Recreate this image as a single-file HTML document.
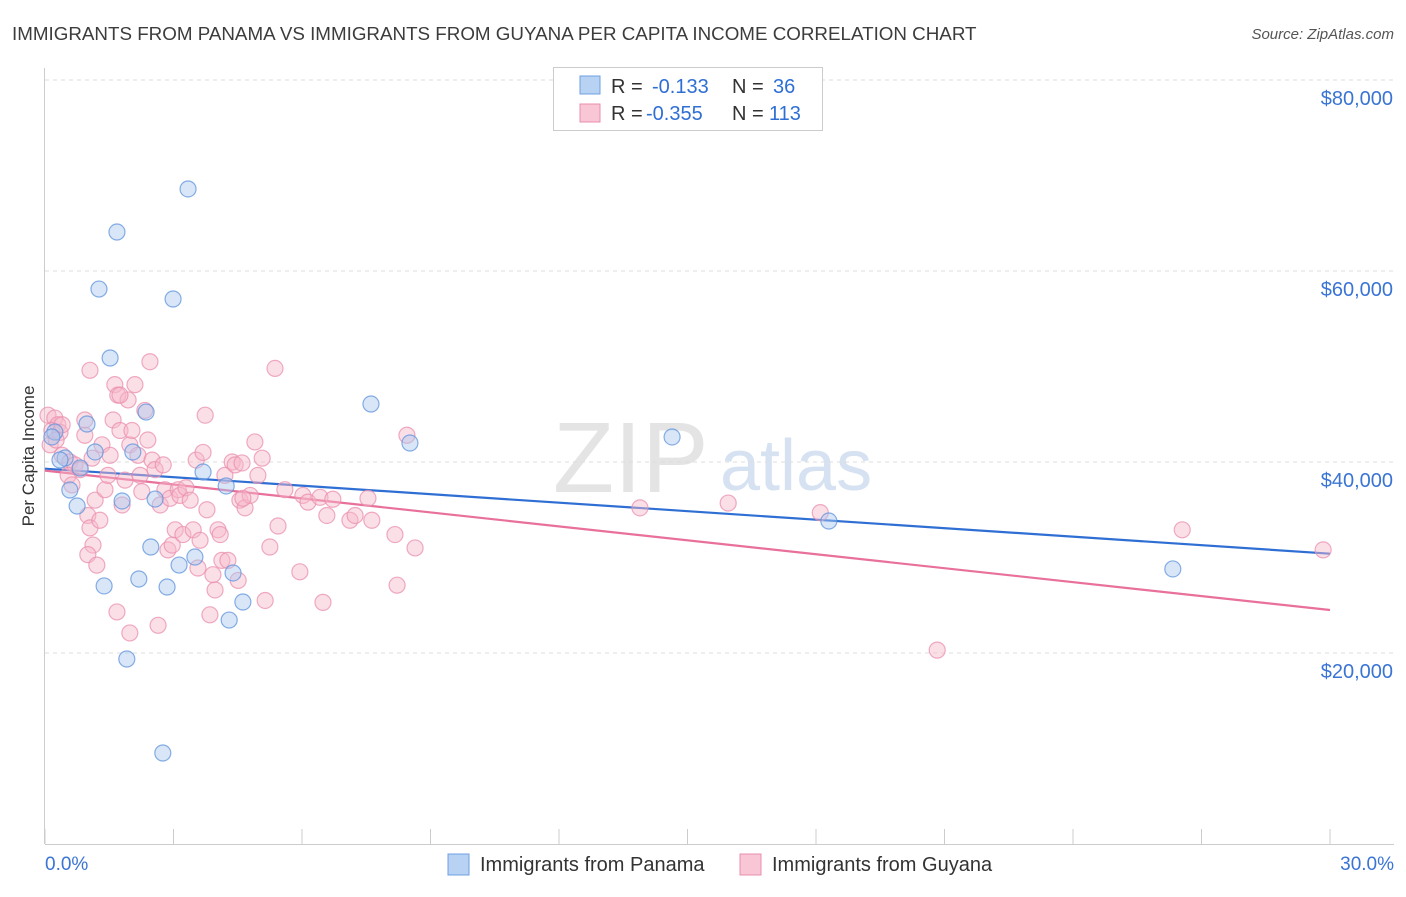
<!DOCTYPE html>
<html><head><meta charset="utf-8">
<style>
body{margin:0;background:#fff;font-family:"Liberation Sans",sans-serif;}
svg text{font-family:"Liberation Sans",sans-serif;}
</style></head>
<body>
<svg id="chart" width="1406" height="892" viewBox="0 0 1406 892">
<text x="12" y="40" font-size="18.8" fill="#3c3c3c">IMMIGRANTS FROM PANAMA VS IMMIGRANTS FROM GUYANA PER CAPITA INCOME CORRELATION CHART</text>
<text x="1394" y="39" font-size="15" fill="#555" text-anchor="end" font-style="italic">Source: ZipAtlas.com</text>
<text x="553" y="492" font-size="100" fill="#e4e4e4" font-family="Liberation Serif">ZIP</text>
<text x="720" y="490" font-size="72" fill="#d6e2f2">atlas</text>
<text transform="translate(34,456) rotate(-90)" font-size="17" fill="#333" text-anchor="middle">Per Capita Income</text>
<g id="grid"></g><g id="axes"></g><g id="lines"></g><g id="pts"></g>
<g>
<rect x="553.5" y="67.5" width="269" height="63" fill="#fff" stroke="#ccc"/>
<rect x="580" y="76" width="20" height="18" fill="#b7d2f3" stroke="#6f9fe0"/>
<rect x="580" y="104" width="20" height="18" fill="#f8c6d4" stroke="#e98eae"/>
<text x="611" y="93" font-size="20" fill="#333">R = </text><text x="652" y="93" font-size="20" fill="#2f6fd4">-0.133</text>
<text x="732" y="93" font-size="20" fill="#333">N = </text><text x="773" y="93" font-size="20" fill="#2f6fd4">36</text>
<text x="611" y="120" font-size="20" fill="#333">R = </text><text x="646" y="120" font-size="20" fill="#2f6fd4">-0.355</text>
<text x="732" y="120" font-size="20" fill="#333">N = </text><text x="769" y="120" font-size="20" fill="#2f6fd4">113</text>
</g>
<g>
<rect x="448" y="854" width="21" height="21" fill="#b7d2f3" stroke="#6f9fe0"/>
<text x="480" y="871" font-size="20" fill="#333">Immigrants from Panama</text>
<rect x="740" y="854" width="21" height="21" fill="#f8c6d4" stroke="#e98eae"/>
<text x="772" y="871" font-size="20" fill="#333">Immigrants from Guyana</text>
</g>
</svg>
<script>
const yTicks=[20000,40000,60000,80000];
const yTickLabels=["$20,000","$40,000","$60,000","$80,000"];
const xTickLabels=["0.0%","30.0%"];
const panamaX=[3.34,1.68,1.26,2.99,1.52,7.61,2.36,0.98,0.23,0.16,14.64,8.52,0.47,1.17,0.82,2.05,0.58,1.80,0.75,2.57,3.69,4.23,2.47,3.50,3.13,2.19,1.38,2.85,4.39,4.62,4.30,1.91,2.75,18.30,26.33,0.35];
const panamaY=[68590,64080,58110,57070,50890,46070,45230,43980,43140,42620,42620,41990,40420,41050,39370,41050,37070,35920,35390,36120,38950,37490,31100,30050,29210,27750,27020,26910,28380,25340,23450,19370,9530,33820,28800,40210];
const guyanaX=[0.07,0.23,0.30,0.16,0.35,0.12,0.26,0.40,0.58,0.70,0.54,0.63,0.82,0.93,1.10,1.17,1.00,1.05,1.12,1.00,1.21,1.33,1.40,1.47,1.52,1.59,1.63,1.70,1.75,1.80,1.87,1.94,1.98,2.03,2.10,2.17,2.26,2.33,2.40,2.45,2.50,2.57,2.64,2.69,2.76,2.80,2.87,2.92,2.97,3.04,3.11,3.15,3.22,3.29,3.39,3.46,3.53,3.57,3.62,3.69,3.74,3.78,3.85,3.92,3.97,4.04,4.09,4.13,4.20,4.27,4.37,4.44,4.51,4.55,4.60,4.67,4.79,4.90,4.97,5.07,5.14,5.25,5.37,5.44,5.60,5.95,6.02,6.14,6.42,6.49,6.58,6.72,7.12,7.24,7.54,7.63,8.17,8.22,8.45,8.64,13.89,15.95,18.10,20.83,26.55,29.84,2.22,1.28,0.93,0.40,1.05,1.68,1.98,4.62,1.75];
const guyanaY=[44.9,44.6,43.9,43.3,43.1,41.8,42.3,40.7,40.0,39.7,38.6,37.6,39.2,42.8,40.4,36.0,34.4,33.1,31.3,30.3,29.2,41.8,37.1,38.6,40.7,44.4,48.1,47.0,43.3,35.5,38.1,46.5,41.8,43.3,48.1,40.7,36.9,45.4,42.3,50.5,40.2,39.2,22.9,35.5,39.7,37.1,30.8,36.2,31.3,32.9,37.1,36.5,32.4,37.3,36.0,32.9,40.2,28.9,31.8,41.0,44.9,35.0,24.0,28.2,26.6,32.9,32.4,29.7,38.6,29.7,40.0,39.7,27.6,36.0,39.9,35.2,36.5,42.1,38.6,40.4,25.5,31.1,49.8,33.3,37.1,28.5,36.5,35.8,36.3,25.3,34.4,36.1,33.9,34.4,36.2,33.9,32.4,27.1,42.8,31.0,35.2,35.7,34.7,20.3,32.9,30.8,38.6,33.9,44.4,43.9,49.6,24.3,22.1,36.2,47.0].map(v=>v*1000);
const panamaTrend=[39300,30400];
const guyanaTrend=[39100,24500];

const NS="http://www.w3.org/2000/svg";
const X=v=>45+v/30*1285;
const Y=v=>844-v/20000*191;
function mk(tag,parent,at){const e=document.createElementNS(NS,tag);for(const k in at)e.setAttribute(k,at[k]);document.getElementById(parent).appendChild(e);return e;}
yTicks.forEach((t,i)=>{
 const g=mk('line','grid',{x1:45,x2:1394,y1:Y(t),y2:Y(t),stroke:'#ddd','stroke-dasharray':'4,4'});
 
 
 const l=mk('text','axes',{x:1393,y:Y(t)+25,'font-size':20,fill:'#3a74d4','text-anchor':'end'});
 l.textContent=yTickLabels[i];
 
 
});
const ax=mk('line','axes',{x1:45,x2:1394,y1:844.5,y2:844.5,stroke:'#ccc'});


const ay=mk('line','axes',{x1:44.5,x2:44.5,y1:68,y2:844,stroke:'#ccc'});


for(let i=0;i<=10;i++){
 const t=mk('line','axes',{x1:X(i*3),x2:X(i*3),y1:829,y2:844,stroke:'#ccc'});
 
 
}
[[0,'start',45],[30,'end',1394]].forEach((d,i)=>{
 const l=mk('text','axes',{x:d[2],y:870,'font-size':19,fill:'#3a74d4','text-anchor':d[1]});
 l.textContent=xTickLabels[i];
 
 
});
function pts(xs,ys,fill,stroke,name){
 xs.forEach((x,i)=>{
  const c=mk('circle','pts',{cx:X(x),cy:Y(ys[i]),r:8,fill:fill,'fill-opacity':0.45,stroke:stroke,'stroke-opacity':0.75,'stroke-width':1.2});
  
  
 });
}
pts(guyanaX,guyanaY,'#f6b7ca','#ea8fae','guyana-point');
pts(panamaX,panamaY,'#a9c8f0','#5f93dc','panama-point');
const lp=mk('line','lines',{x1:X(0),x2:X(30),y1:Y(panamaTrend[0]),y2:Y(panamaTrend[1]),stroke:'#2f6fd4','stroke-width':2.2});


const lg=mk('line','lines',{x1:X(0),x2:X(30),y1:Y(guyanaTrend[0]),y2:Y(guyanaTrend[1]),stroke:'#e8709a','stroke-width':2.2});


</script>
</body></html>
